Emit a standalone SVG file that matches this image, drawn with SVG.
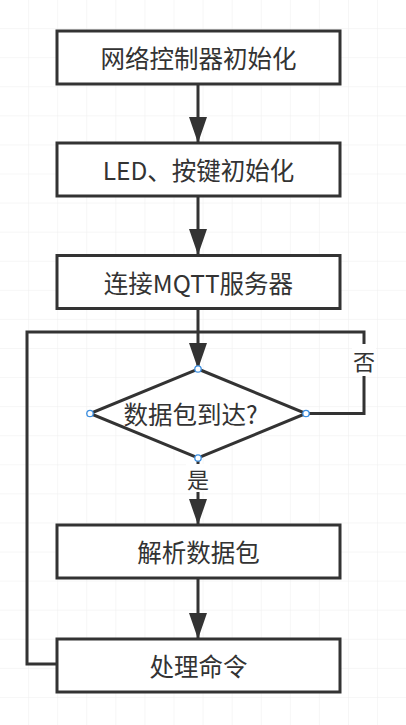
<svg xmlns="http://www.w3.org/2000/svg" width="406" height="725" viewBox="0 0 406 725">
<defs>
<pattern id="grid" width="29.08" height="29.08" patternUnits="userSpaceOnUse" x="0" y="0">
<path d="M29.08 0V29.08M0 29.08H29.08" fill="none" stroke="#eeeeee" stroke-width="1"/>
</pattern>
<marker id="arr" markerUnits="userSpaceOnUse" markerWidth="26" markerHeight="18" refX="25" refY="9" orient="auto" viewBox="0 0 26 18">
<path d="M0 0L26 9L0 18Z" fill="#333333"/>
</marker>
</defs>
<style>
.box{fill:#ffffff;stroke:#333333;stroke-width:3}
.t{font-family:"Microsoft YaHei","Noto Sans CJK SC","Noto Sans",sans-serif;font-size:24.5px;fill:#333333;text-anchor:middle;dominant-baseline:central}
.lbl{font-family:"Microsoft YaHei","Noto Sans CJK SC","Noto Sans",sans-serif;font-size:22px;fill:#333333;text-anchor:middle;dominant-baseline:central}
.ln{fill:none;stroke:#333333;stroke-width:3}
.h{fill:#ffffff;stroke:#3d8fe0;stroke-width:1.3}
</style>
<rect width="406" height="725" fill="#ffffff"/>
<rect width="406" height="725" fill="url(#grid)"/>
<g id="connectors">
<path class="ln" d="M198 84V142" marker-end="url(#arr)"/>
<path class="ln" d="M198 196V254" marker-end="url(#arr)"/>
<path class="ln" d="M198 309V368" marker-end="url(#arr)"/>
<path class="ln" d="M306 413.5H364V332H198"/>
<path class="ln" d="M57 664H27V332H198"/>
<path class="ln" d="M198 458V524" marker-end="url(#arr)"/>
<path class="ln" d="M198 579V638" marker-end="url(#arr)"/>
<rect x="352" y="344" width="24" height="32" fill="#ffffff"/>
<text class="lbl" x="364" y="360">否</text>
<rect x="186" y="464" width="24" height="28" fill="#ffffff"/>
<text class="lbl" x="198" y="478">是</text>
</g>
<g id="n1">
<rect class="box" x="57" y="31" width="283" height="53"/>
<text class="t" x="198.5" y="57.5">网络控制器初始化</text>
</g>
<g id="n2">
<rect class="box" x="57" y="143" width="283" height="53"/>
<text class="t" x="198.5" y="169.5">LED、按键初始化</text>
</g>
<g id="n3">
<rect class="box" x="57" y="255.5" width="283" height="53"/>
<text class="t" x="198.5" y="282">连接MQTT服务器</text>
</g>
<g id="n4">
<path d="M198 369L306 413.5L198 458L90 413.5Z" fill="#ffffff" stroke="#333333" stroke-width="3" stroke-linejoin="miter"/>
<text class="t" x="190.5" y="413.5">数据包到达?</text>
<circle class="h" cx="198" cy="369" r="3.2"/>
<circle class="h" cx="306" cy="413.5" r="3.2"/>
<circle class="h" cx="198" cy="458" r="3.2"/>
<circle class="h" cx="90" cy="413.5" r="3.2"/>
</g>
<g id="n5">
<rect class="box" x="57" y="525" width="283" height="53"/>
<text class="t" x="198.5" y="551.5">解析数据包</text>
</g>
<g id="n6">
<rect class="box" x="57" y="639" width="283" height="53"/>
<text class="t" x="198.5" y="665.5">处理命令</text>
</g>
</svg>
